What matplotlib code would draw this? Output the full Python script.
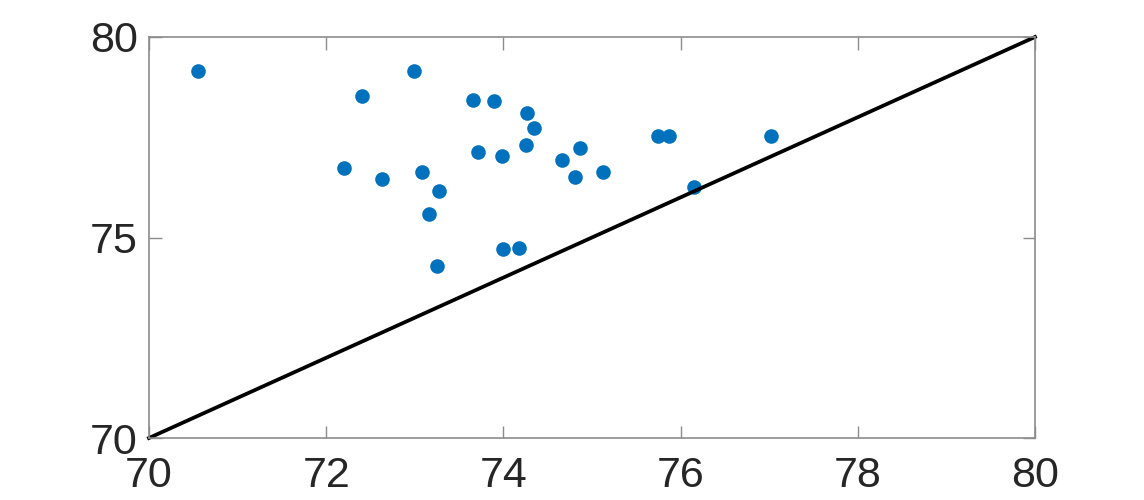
import numpy as np
import matplotlib.pyplot as plt

# scatter values
x_vals = [70.55, 72.40, 72.99, 73.66, 73.90, 74.27, 74.35, 74.25, 73.71, 73.99,
          72.20, 72.63, 73.08, 73.27, 73.16, 74.00, 74.18, 73.25, 74.66, 74.86,
          74.81, 75.75, 75.87, 77.02, 76.15, 75.12]
y_vals = [79.15, 78.52, 79.15, 78.42, 78.40, 78.10, 77.72, 77.30, 77.12, 77.02,
          76.73, 76.45, 76.63, 76.15, 75.58, 74.71, 74.73, 74.28, 76.93, 77.22,
          76.50, 77.53, 77.53, 77.53, 76.27, 76.63]

# identity line
line_x = [70, 80]
line_y = [70, 80]

x_ticks = [70, 72, 74, 76, 78, 80]
y_ticks = [70, 75, 80]

plt.rcParams['font.family'] = ['Liberation Sans', 'DejaVu Sans']

fig = plt.figure(figsize=(11.44, 5), dpi=100)
ax = fig.add_axes([0.1302, 0.124, 0.7745, 0.802])

ax.plot(x_vals, y_vals, 'o', color='#0072BD', markersize=10.5, markeredgewidth=0)
ax.plot(line_x, line_y, '-', color='black', linewidth=2.7, clip_on=False)

ax.set_xlim(70, 80)
ax.set_ylim(70, 80)
ax.set_xticks(x_ticks)
ax.set_yticks(y_ticks)

for s in ax.spines.values():
    s.set_color('#8c8c8c')
    s.set_linewidth(1.2)
ax.tick_params(direction='in', length=9, width=1, color='#8c8c8c',
               labelsize=31, labelcolor='#262626', top=True, right=True)
ax.tick_params(axis='x', pad=13)
ax.tick_params(axis='y', pad=8)

fig.savefig('out.png', dpi=100)
